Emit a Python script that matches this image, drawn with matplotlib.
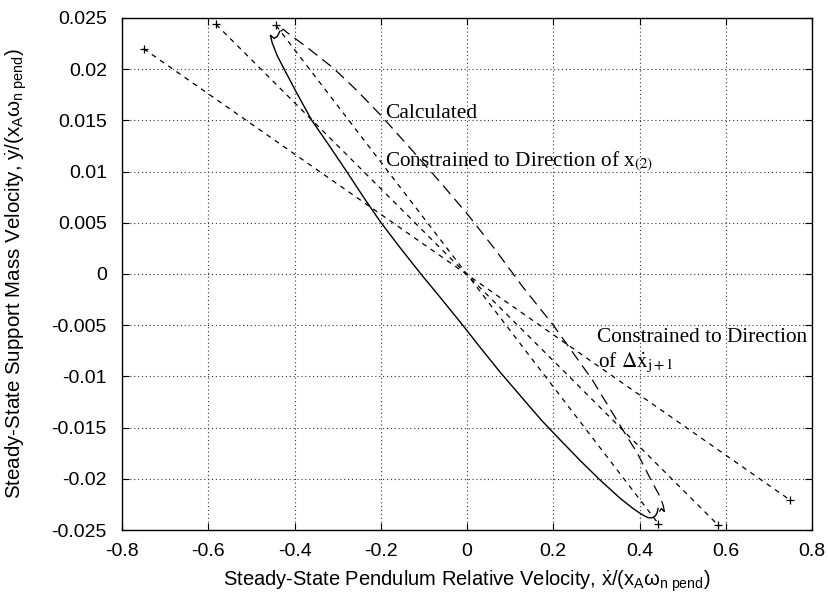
import numpy as np
import matplotlib
matplotlib.use("Agg")
import matplotlib.pyplot as plt
from matplotlib.ticker import FuncFormatter

plt.rcParams['font.family'] = ['Liberation Sans', 'DejaVu Sans']
plt.rcParams['axes.unicode_minus'] = False
plt.rcParams['mathtext.fontset'] = 'custom'
plt.rcParams['mathtext.rm'] = 'Liberation Sans'
plt.rcParams['mathtext.it'] = 'Liberation Sans'

# solid curve
calc_x = [-0.434, -0.440, -0.447, -0.453, -0.456, -0.452, -0.440, -0.424, -0.394, -0.360,
          -0.319, -0.279, -0.240, -0.201, -0.154, -0.107, -0.058, -0.010, 0.033, 0.077,
          0.130, 0.173, 0.216, 0.262, 0.308, 0.355, 0.385, 0.406, 0.420, 0.430, 0.437, 0.441, 0.443]
calc_y = [0.0237, 0.0232, 0.0230, 0.0232, 0.0233, 0.0226, 0.0213, 0.0200, 0.0176, 0.0150,
          0.0125, 0.0100, 0.0075, 0.0051, 0.0025, 0.0000, -0.0025, -0.0050, -0.0073, -0.0096,
          -0.0122, -0.0143, -0.0162, -0.0182, -0.0201, -0.0219, -0.0229, -0.0235, -0.0238, -0.0238, -0.0236, -0.0233, -0.0229]

# long dashed curve
mode_x = [-0.432, -0.426, -0.418, -0.370, -0.310, -0.255, -0.200, -0.130, -0.065, 0.000,
          0.065, 0.130, 0.200, 0.290, 0.358, 0.395, 0.424, 0.447, 0.455, 0.459, 0.455, 0.451, 0.446]
mode_y = [0.0237, 0.0239, 0.0236, 0.0221, 0.0201, 0.0179, 0.0155, 0.0122, 0.0091, 0.0059,
          0.0024, -0.0013, -0.0050, -0.0103, -0.0150, -0.0175, -0.0199, -0.0217, -0.0226, -0.0235,
          -0.0231, -0.0229, -0.0232]

# short dashed straight lines, end points marked with +
left_x = [-0.750, -0.582, -0.443]
left_y = [0.0220, 0.02437, 0.02427]
right_x = [0.750, 0.5825, 0.4435]
right_y = [-0.0221, -0.02453, -0.02437]

fig = plt.figure(figsize=(8.29, 5.98), dpi=100)
ax = fig.add_axes([0.1472, 0.1137, 0.8323, 0.8563])

for x0, y0, x1, y1 in zip(left_x, left_y, right_x, right_y):
    ax.plot([x0, x1], [y0, y1], color='black', lw=0.9, dashes=(4, 4),
            marker='+', markersize=6, markeredgewidth=0.9)

ax.plot(calc_x, calc_y, color='black', lw=1.0, solid_joinstyle='round')
ax.plot(mode_x, mode_y, color='black', lw=0.9, dashes=(9, 5))

serif = ['Liberation Serif', 'DejaVu Serif']
ax.text(-0.190, 0.01527, 'Calculated', family=serif, fontsize=15.5, va='baseline')
ax.text(-0.190, 0.01045, r'Constrained to Direction of x$_{(2)}$', family=serif,
        fontsize=15.3, va='baseline', math_fontfamily='stix')
ax.text(0.301, -0.00669, 'Constrained to Direction', family=serif, fontsize=15.3, va='baseline')
ax.text(0.3035, -0.00916, r'of $\Delta\dot{\mathrm{x}}_{\mathrm{j+1}}$', family=serif,
        fontsize=15.3, va='baseline', math_fontfamily='stix')

ax.set_xlim(-0.8, 0.8)
ax.set_ylim(-0.025, 0.025)
ax.set_xticks(np.arange(-0.8, 0.81, 0.2))
ax.set_yticks(np.arange(-0.025, 0.0251, 0.005))
fmt = FuncFormatter(lambda v, p: '0' if abs(v) < 1e-9 else f'{round(v, 4):g}')
ax.xaxis.set_major_formatter(fmt)
ax.yaxis.set_major_formatter(fmt)
ax.tick_params(direction='in', top=True, right=True, length=5, width=0.8, labelsize=14)
ax.tick_params(axis='x', pad=9)
ax.tick_params(axis='y', pad=11)
ax.grid(True, color='#333333', linestyle=(0, (1, 2.5)), lw=0.8)
for s in ax.spines.values():
    s.set_linewidth(1.0)

ax.set_xlabel(r'Steady-State Pendulum Relative Velocity, $\dot{\mathrm{x}}$/(x$_\mathrm{A}\omega_\mathrm{n\ pend}$)',
              fontsize=14.5)
ax.set_ylabel(r'Steady-State Support Mass Velocity, $\dot{\mathrm{y}}$/(x$_\mathrm{A}\omega_\mathrm{n\ pend}$)',
              fontsize=14.8)
ax.xaxis.set_label_coords(0.5, -0.075)
ax.yaxis.set_label_coords(-0.135, 0.5)

fig.savefig('out.png', dpi=100)
